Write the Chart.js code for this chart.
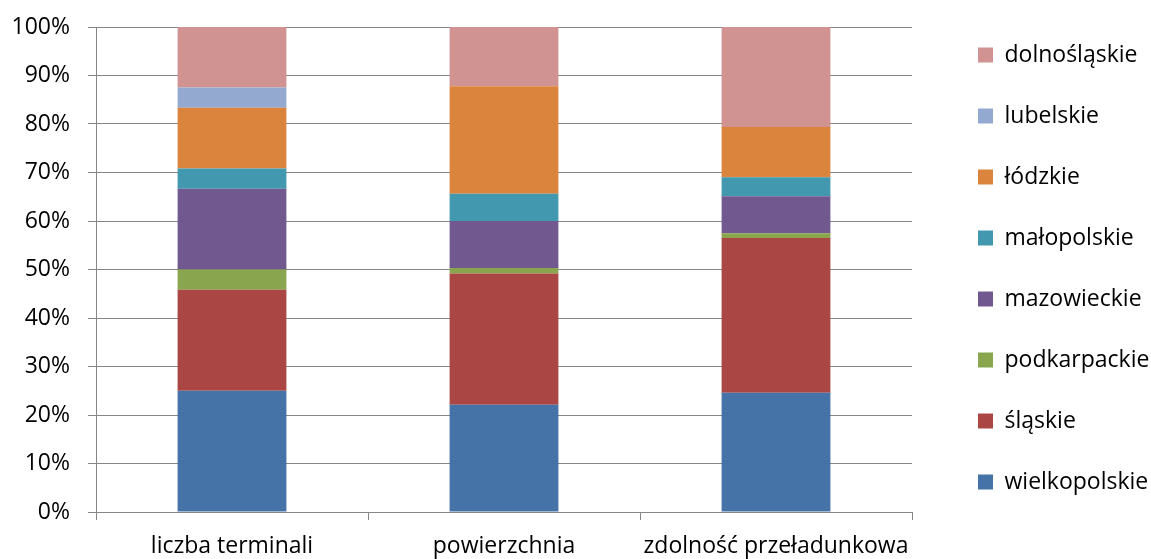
<!DOCTYPE html>
<html lang="pl">
<head>
<meta charset="utf-8">
<title>Struktura terminali</title>
<script src="https://cdn.jsdelivr.net/npm/chart.js@4.4.1/dist/chart.umd.min.js"></script>
<style>
  html, body { margin: 0; padding: 0; background: #fff; }
  #wrap { width: 1151px; height: 559px; }
</style>
</head>
<body>
<div id="wrap"><canvas id="chart"></canvas></div>
<script>
const categories = ["liczba terminali", "powierzchnia", "zdolność przeładunkowa"];

// udział procentowy województw w każdej kategorii
const wielkopolskie = [25.0, 22.1, 24.6];
const slaskie       = [20.83, 27.1, 31.9];
const podkarpackie  = [4.17, 1.1, 1.0];
const mazowieckie   = [16.67, 9.7, 7.6];
const malopolskie   = [4.17, 5.6, 3.9];
const lodzkie       = [12.5, 22.2, 10.4];
const lubelskie     = [4.17, 0, 0];
const dolnoslaskie  = [12.49, 12.2, 20.6];

const yTicks = [0, 10, 20, 30, 40, 50, 60, 70, 80, 90, 100];

const seriesNames = ["wielkopolskie", "śląskie", "podkarpackie", "mazowieckie",
                     "małopolskie", "łódzkie", "lubelskie", "dolnośląskie"];
const seriesData = [wielkopolskie, slaskie, podkarpackie, mazowieckie,
                    malopolskie, lodzkie, lubelskie, dolnoslaskie];
const seriesColors = ["#4572A7", "#AA4643", "#89A54E", "#71588F",
                      "#4198AF", "#DB843D", "#93A9CF", "#D19392"];

const FONT = { family: "'Open Sans', Lato, sans-serif", size: 23 };
const AXIS_GREY = "#868686";

// legend column: fixed width and swatches pushed away from the plot
const legendColumn = {
  id: "legendColumn",
  beforeInit(chart) {
    const legend = chart.legend;
    const fit = legend.fit;
    legend.fit = function () {
      fit.call(this);
      this.width = 239;
    };
  },
  afterLayout(chart) {
    const legend = chart.legend;
    legend.left += 28;
    legend.top = 2;
    legend.bottom = 535;
  }
};

new Chart(document.getElementById("chart"), {
  type: "bar",
  data: {
    labels: categories,
    datasets: seriesNames.map((name, i) => ({
      label: name,
      data: seriesData[i],
      backgroundColor: seriesColors[i],
      borderWidth: 0,
      barPercentage: 0.4,
      categoryPercentage: 1.0
    }))
  },
  options: {
    responsive: true,
    maintainAspectRatio: false,
    animation: false,
    layout: { padding: { top: 27, right: 0, bottom: 0, left: 0 } },
    plugins: {
      tooltip: { enabled: false },
      legend: {
        position: "right",
        reverse: true,
        labels: {
          boxWidth: 15,
          boxHeight: 15,
          padding: 38,
          color: "#000",
          font: FONT
        }
      }
    },
    scales: {
      x: {
        stacked: true,
        grid: {
          drawOnChartArea: false,
          drawTicks: true,
          tickLength: 8,
          color: AXIS_GREY
        },
        border: { color: AXIS_GREY, width: 1 },
        ticks: { color: "#000", font: FONT, padding: 13, maxRotation: 0 },
        afterFit(scale) { scale.height = 47; }
      },
      y: {
        stacked: true,
        min: 0,
        max: 100,
        afterBuildTicks(scale) {
          scale.ticks = yTicks.map(v => ({ value: v }));
        },
        grid: {
          color: AXIS_GREY,
          lineWidth: 1,
          drawTicks: true,
          tickLength: 8
        },
        border: { color: AXIS_GREY, width: 1 },
        ticks: {
          color: "#000",
          font: FONT,
          padding: 18,
          callback: v => v + "%"
        },
        afterFit(scale) {
          scale.width = 96;
          // the top label may overhang; keep the plot top fixed by layout padding
          scale.paddingTop = 0;
          scale.paddingBottom = 0;
        }
      }
    }
  },
  plugins: [legendColumn]
});
</script>
</body>
</html>
